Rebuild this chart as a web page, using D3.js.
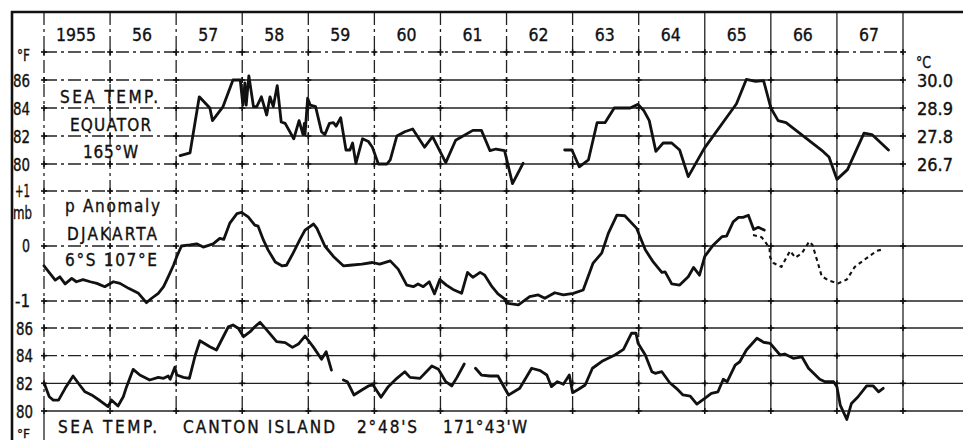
<!DOCTYPE html>
<html><head><meta charset="utf-8">
<script src="https://cdn.jsdelivr.net/npm/d3@7"></script>
<style>body{margin:0;background:#fff} svg{display:block}</style>
</head><body><svg id="c" width="963" height="440"></svg>
<script>
// ---------------- DATA ----------------
const yearTicks = [1955,1956,1957,1958,1959,1960,1961,1962,1963,1964,1965,1966,1967,1968];
const yearLabels = ["1955","56","57","58","59","60","61","62","63","64","65","66","67"];
const tempTicksF = [86,84,82,80];
const tempTicksC = ["30.0","28.9","27.8","26.7"];
const pressTicks = [1,0,-1];
const pressTickLabels = ["+1","0","-1"];

// Sea temperature, Equator 165°W (°F) — [year, value]
const equatorA = [[1957.06,80.6],[1957.21,80.8],[1957.35,84.8],[1957.51,84.0],[1957.55,83.1],[1957.71,84.1],[1957.86,86.0],[1957.97,86.0],[1958.01,84.2],[1958.04,85.8],[1958.06,84.2],[1958.10,86.3],[1958.17,84.1],[1958.22,84.1],[1958.29,84.8],[1958.37,83.5],[1958.42,84.8],[1958.47,84.1],[1958.53,85.6],[1958.59,83.0],[1958.65,82.9],[1958.78,81.8],[1958.86,83.1],[1958.92,82.1],[1958.94,82.9],[1958.95,82.1],[1958.99,84.7],[1959.03,84.2],[1959.11,84.1],[1959.20,82.3],[1959.25,82.1],[1959.32,82.9],[1959.38,82.95],[1959.42,82.7],[1959.49,83.3],[1959.57,81.0],[1959.63,81.0],[1959.67,81.5],[1959.72,80.05],[1959.82,81.8],[1959.91,81.6],[1959.97,81.2],[1960.06,80.0],[1960.19,80.0],[1960.24,80.3],[1960.34,82.0],[1960.46,82.3],[1960.58,82.5],[1960.76,81.2],[1960.88,81.95],[1961.08,80.1],[1961.23,81.7],[1961.49,82.4],[1961.62,82.4],[1961.75,80.95],[1961.84,81.07],[1961.97,80.95],[1962.09,78.6],[1962.25,80.05]];
const equatorB = [[1962.88,81.0],[1962.99,81.0],[1963.10,79.8],[1963.24,80.3],[1963.37,82.95],[1963.49,82.95],[1963.63,84.0],[1963.87,84.0],[1963.99,84.26],[1964.08,83.8],[1964.16,83.1],[1964.26,80.9],[1964.37,81.5],[1964.50,81.5],[1964.62,81.0],[1964.75,79.1],[1964.99,81.1],[1965.48,84.3],[1965.63,86.05],[1965.77,85.9],[1965.89,85.95],[1966.00,84.0],[1966.11,83.1],[1966.23,82.95],[1966.79,80.9],[1966.88,80.5],[1967.00,78.9],[1967.16,79.6],[1967.41,82.2],[1967.53,82.1],[1967.78,81.0]];

// Pressure anomaly, Djakarta (mb)
const djakarta = [[1955.00,-0.36],[1955.17,-0.62],[1955.24,-0.56],[1955.32,-0.69],[1955.42,-0.59],[1955.49,-0.65],[1955.59,-0.61],[1955.70,-0.65],[1955.80,-0.68],[1955.92,-0.74],[1956.05,-0.65],[1956.15,-0.68],[1956.28,-0.77],[1956.43,-0.86],[1956.55,-1.03],[1956.63,-0.95],[1956.73,-0.86],[1956.81,-0.74],[1956.88,-0.56],[1956.96,-0.35],[1957.01,-0.19],[1957.08,0],[1957.21,0.02],[1957.31,0.04],[1957.41,-0.02],[1957.56,0.04],[1957.66,0.14],[1957.72,0.12],[1957.81,0.41],[1957.92,0.59],[1957.99,0.61],[1958.09,0.53],[1958.19,0.38],[1958.24,0.36],[1958.32,0.11],[1958.39,-0.07],[1958.50,-0.29],[1958.60,-0.36],[1958.67,-0.35],[1958.77,-0.13],[1958.87,0.11],[1958.95,0.29],[1959.08,0.40],[1959.13,0.32],[1959.25,0],[1959.38,-0.19],[1959.53,-0.36],[1959.63,-0.35],[1959.81,-0.33],[1959.97,-0.30],[1960.08,-0.33],[1960.24,-0.27],[1960.36,-0.42],[1960.49,-0.71],[1960.59,-0.74],[1960.66,-0.69],[1960.74,-0.74],[1960.83,-0.65],[1960.91,-0.87],[1960.99,-0.61],[1961.09,-0.71],[1961.19,-0.79],[1961.32,-0.86],[1961.41,-0.48],[1961.49,-0.57],[1961.60,-0.48],[1961.67,-0.53],[1961.78,-0.74],[1961.87,-0.87],[1961.98,-0.97],[1962.00,-1.04],[1962.18,-1.07],[1962.35,-0.92],[1962.48,-0.89],[1962.58,-0.95],[1962.73,-0.85],[1962.86,-0.89],[1963.01,-0.86],[1963.16,-0.80],[1963.31,-0.31],[1963.44,-0.13],[1963.54,0.23],[1963.67,0.56],[1963.79,0.55],[1963.97,0.32],[1964.02,0.17],[1964.10,-0.07],[1964.22,-0.29],[1964.35,-0.48],[1964.40,-0.47],[1964.50,-0.69],[1964.62,-0.71],[1964.75,-0.56],[1964.83,-0.39],[1964.92,-0.53],[1965.00,-0.19],[1965.13,0.02],[1965.26,0.17],[1965.33,0.18],[1965.43,0.44],[1965.51,0.52],[1965.58,0.52],[1965.66,0.56],[1965.74,0.30],[1965.81,0.34],[1965.90,0.29]];
const djakartaProvisional = [[1965.73,0.20],[1965.86,0.16],[1965.93,0.05],[1965.98,-0.04],[1965.99,-0.21],[1966.04,-0.31],[1966.16,-0.38],[1966.29,-0.09],[1966.37,-0.21],[1966.47,-0.13],[1966.58,0.08],[1966.63,0.02],[1966.69,-0.22],[1966.77,-0.55],[1966.88,-0.63],[1967.02,-0.68],[1967.15,-0.61],[1967.27,-0.38],[1967.45,-0.22],[1967.60,-0.09],[1967.70,-0.06]];

// Sea temperature, Canton Island (°F)
const cantonA = [[1955.00,82.04],[1955.08,81.03],[1955.14,80.79],[1955.22,80.79],[1955.32,81.64],[1955.44,82.53],[1955.54,81.88],[1955.62,81.39],[1955.72,81.16],[1955.85,80.74],[1955.97,80.31],[1956.02,80.79],[1956.12,80.36],[1956.20,81.03],[1956.25,81.76],[1956.35,83.01],[1956.45,82.6],[1956.60,82.24],[1956.73,82.43],[1956.81,82.36],[1956.88,82.53],[1956.91,82.29],[1956.98,83.16],[1957.01,82.6],[1957.11,82.43],[1957.20,82.36],[1957.29,84.05],[1957.36,85.08],[1957.51,84.65],[1957.61,84.41],[1957.79,86.09],[1957.86,86.22],[1957.94,85.98],[1958.02,85.37],[1958.12,85.73],[1958.19,86.09],[1958.27,86.41],[1958.37,85.86],[1958.52,85.01],[1958.65,84.94],[1958.76,84.6],[1958.85,84.84],[1958.95,85.42],[1959.08,84.6],[1959.20,83.74],[1959.27,84.29],[1959.35,82.96]];
const cantonB = [[1959.53,82.24],[1959.59,82.12],[1959.69,81.16],[1959.81,81.52],[1959.91,81.81],[1959.98,81.88],[1960.10,80.99],[1960.21,81.76],[1960.34,82.36],[1960.46,82.84],[1960.54,82.43],[1960.69,82.36],[1960.87,83.25],[1960.97,83.01],[1961.08,82.12],[1961.17,81.81],[1961.25,82.43],[1961.36,83.40]];
const cantonC = [[1961.53,83.09],[1961.62,82.6],[1961.75,82.53],[1961.87,82.53],[1962.03,81.16],[1962.20,81.64],[1962.38,83.09],[1962.51,82.92],[1962.61,82.6],[1962.68,81.76],[1962.77,82.12],[1962.86,81.93],[1962.95,82.6],[1963.00,81.32],[1963.09,81.57],[1963.19,81.88],[1963.30,83.09],[1963.46,83.64],[1963.64,84.05],[1963.77,84.46],[1963.89,85.62],[1963.96,85.62],[1963.99,84.89],[1964.10,84.05],[1964.20,82.84],[1964.25,82.72],[1964.35,82.84],[1964.47,82.04],[1964.57,81.64],[1964.67,81.16],[1964.78,81.08],[1964.88,80.50],[1965.00,80.92],[1965.10,81.28],[1965.20,81.39],[1965.28,82.29],[1965.34,82.12],[1965.46,83.32],[1965.53,83.56],[1965.63,84.41],[1965.79,85.26],[1965.89,84.97],[1965.99,84.89],[1966.14,84.05],[1966.21,84.12],[1966.34,83.81],[1966.47,83.92],[1966.57,83.09],[1966.74,82.29],[1966.82,82.12],[1966.95,82.12],[1967.00,81.76],[1967.05,80.43],[1967.15,79.39],[1967.22,80.55],[1967.32,81.03],[1967.45,81.81],[1967.55,81.81],[1967.63,81.39],[1967.70,81.64]];

// ---------------- DRAWING ----------------
const svg = d3.select("#c");
const FONT = "'DejaVu Sans Condensed','DejaVu Sans',sans-serif";
const INK = "#111";

const x = d3.scaleLinear().domain([1955, 1968]).range([44, 903]);
const yTop = d3.scaleLinear().domain([80, 86]).range([164, 80]);
const yP = d3.scaleLinear().domain([-1, 1]).range([301, 191]);
const yBot = d3.scaleLinear().domain([80, 86]).range([411, 328]);

const gGrid = svg.append("g").attr("stroke", "#222").attr("stroke-width", 1.3).attr("fill", "none");
const DASH = "13,4,3,4";

function hline(y, x1, x2, dashTo) {
  if (dashTo > x1) gGrid.append("line").attr("x1", x1).attr("x2", Math.min(dashTo, x2)).attr("y1", y).attr("y2", y).attr("stroke-dasharray", DASH);
  if (dashTo < x2) gGrid.append("line").attr("x1", Math.max(dashTo, x1)).attr("x2", x2).attr("y1", y).attr("y2", y);
}
function vline(xx, y1, y2, dashed) {
  const l = gGrid.append("line").attr("x1", xx).attr("x2", xx).attr("y1", y1).attr("y2", y2);
  if (dashed) l.attr("stroke-dasharray", DASH);
}

// horizontal grid lines
hline(yTop(88), x(1955), x(1968), x(1968));
tempTicksF.forEach(v => hline(yTop(v), x(1955), x(1968), v === 80 ? x(1959) : x(1957)));
pressTicks.forEach(v => hline(yP(v), x(1955), 963, v === 1 ? x(1961) : v === 0 ? x(1964) : x(1963)));
tempTicksF.forEach(v => hline(yBot(v), x(1955), 963, v === 86 ? x(1958) : v === 84 ? x(1957) : x(1955)));

// vertical grid lines
yearTicks.forEach(t => vline(x(t), 12, yBot(80), t <= 1964));
vline(x(1955), yBot(80), 440, false);

// small crosses at intersections
const hys = [yTop(88)].concat(tempTicksF.map(yTop), pressTicks.map(yP), tempTicksF.map(yBot));
const gCross = svg.append("g").attr("stroke", "#111").attr("stroke-width", 1.6);
yearTicks.forEach(t => hys.forEach(hy => {
  const cx = x(t);
  gCross.append("line").attr("x1", cx - 3).attr("x2", cx + 3).attr("y1", hy).attr("y2", hy);
  gCross.append("line").attr("x1", cx).attr("x2", cx).attr("y1", hy - 3).attr("y2", hy + 3);
}));

// frame
svg.append("line").attr("x1", 11).attr("x2", 963).attr("y1", 12).attr("y2", 12).attr("stroke", INK).attr("stroke-width", 2.6);
svg.append("line").attr("x1", 12).attr("x2", 12).attr("y1", 11).attr("y2", 440).attr("stroke", INK).attr("stroke-width", 2.6);

// data lines
function draw(data, yS, dashed) {
  const line = d3.line().x(d => x(d[0])).y(d => yS(d[1]));
  const p = svg.append("path").datum(data).attr("d", line)
    .attr("fill", "none").attr("stroke", INK).attr("stroke-width", dashed ? 2.1 : 2.8)
    .attr("stroke-linejoin", "round").attr("stroke-linecap", "round");
  if (dashed) p.attr("stroke-dasharray", "4,3.5").attr("stroke-linecap", "butt");
}
draw(equatorA, yTop); draw(equatorB, yTop);
draw(djakarta, yP); draw(djakartaProvisional, yP, true);
draw(cantonA, yBot); draw(cantonB, yBot); draw(cantonC, yBot);

// text helper
function txt(s, xx, yy, size, opts = {}) {
  const t = svg.append("text").text(s).attr("x", xx).attr("y", yy)
    .attr("font-family", FONT).attr("font-size", size).attr("fill", INK)
    .attr("stroke", INK).attr("stroke-width", 0.35)
    .attr("text-anchor", opts.anchor || "start");
  if (opts.len) t.attr("textLength", opts.len).attr("lengthAdjust", opts.adj || "spacingAndGlyphs");
  return t;
}

// year labels
yearLabels.forEach((s, i) => txt(s, x(yearTicks[i] + 0.5) - 1, 41, 18, { anchor: "middle", len: s.length === 4 ? 40 : 20 }));

// left axis labels
txt("°F", 17, 61, 15, { len: 13 });
tempTicksF.forEach(v => txt(String(v), 13, yTop(v) + 6.5, 17, { len: 17 }));
pressTicks.forEach((v, i) => txt(pressTickLabels[i], 30, yP(v) + 6, 17, { anchor: "end", len: pressTickLabels[i].length * 7 + 1 }));
txt("mb", 13, 219, 17, { len: 19 });
tempTicksF.forEach(v => txt(String(v), 16, yBot(v) + (v === 80 ? 7 : 6.5), 17, { len: 17 }));
txt("°F", 17, 438, 13, { len: 13 });

// right °C labels
txt("°C", 916, 68, 15, { len: 15 });
tempTicksF.forEach((v, i) => txt(tempTicksC[i], 917, yTop(v) + 6.5, 17, { len: 36 }));

// annotations
txt("SEA TEMP.", 60, 103, 17, { len: 98, adj: "spacing" });
txt("EQUATOR", 70, 131, 17, { len: 81, adj: "spacing" });
txt("165°W", 83, 158, 17, { len: 55, adj: "spacing" });
txt("p Anomaly", 65, 212, 17, { len: 95, adj: "spacing" });
txt("DJAKARTA", 67, 240, 17, { len: 90, adj: "spacing" });
txt("6°S 107°E", 65, 266, 17, { len: 92, adj: "spacing" });

txt("SEA TEMP.", 58, 433, 17, { len: 99, adj: "spacing" });
txt("CANTON ISLAND", 183, 433, 17, { len: 152, adj: "spacing" });
txt("2°48'S", 357, 433, 17, { len: 60, adj: "spacing" });
txt("171°43'W", 443, 433, 17, { len: 84, adj: "spacing" });
</script></body></html>
